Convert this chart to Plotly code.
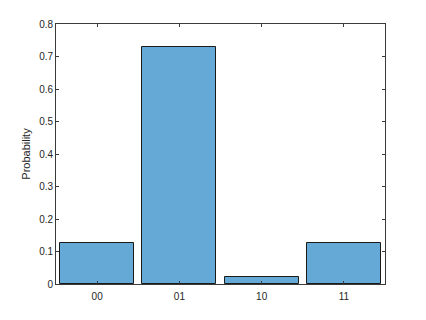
import plotly.graph_objects as go

categories = ["00", "01", "10", "11"]
positions = [1, 2, 3, 4]
probabilities = [0.125, 0.729, 0.021, 0.125]
y_ticks = [0, 0.1, 0.2, 0.3, 0.4, 0.5, 0.6, 0.7, 0.8]
y_tick_labels = ["0", "0.1", "0.2", "0.3", "0.4", "0.5", "0.6", "0.7", "0.8"]

fig = go.Figure(
    go.Bar(
        x=positions,
        y=probabilities,
        width=0.9,
        marker=dict(color="#65A9D7", line=dict(color="#1a1a1a", width=1)),
    )
)

axis_common = dict(
    showline=True,
    linecolor="#3a3a3a",
    linewidth=0.8,
    mirror="ticks",
    ticks="inside",
    ticklen=3,
    tickcolor="#3a3a3a",
    tickwidth=0.8,
    showgrid=False,
    zeroline=False,
    tickfont=dict(family="Liberation Sans, Arial, sans-serif", size=10, color="#262626"),
)

fig.update_xaxes(
    range=[0.5, 4.5],
    tickvals=positions,
    ticktext=categories,
    ticklabelstandoff=3,
    **axis_common,
)
fig.update_yaxes(
    range=[0, 0.8],
    tickvals=y_ticks,
    ticktext=y_tick_labels,
    title=dict(text="Probability", font=dict(family="Liberation Sans, Arial, sans-serif", size=11, color="#262626"), standoff=6),
    **axis_common,
)

fig.update_layout(
    width=426,
    height=320,
    margin=dict(l=56, r=41, t=24, b=36),
    paper_bgcolor="white",
    plot_bgcolor="white",
    showlegend=False,
    bargap=0,
)

fig.write_html("out.html")
